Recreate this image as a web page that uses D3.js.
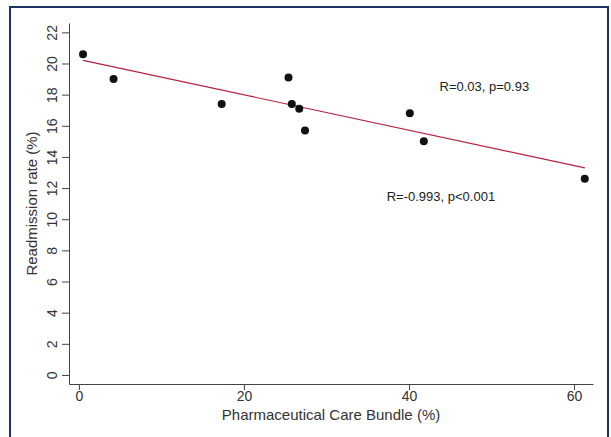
<!DOCTYPE html>
<html>
<head>
<meta charset="utf-8">
<script src="https://cdn.jsdelivr.net/npm/d3@7"></script>
<style>
  html, body { margin: 0; padding: 0; background: #fff; }
  svg { display: block; font-family: "Liberation Sans", Arial, sans-serif; }
</style>
</head>
<body>
<div id="chart"></div>
<script>
// share of patients receiving the bundle vs readmission rate, per site
const bundlePct = [0.5, 4.2, 17.3, 25.4, 25.8, 26.7, 27.4, 40.1, 41.8, 61.3];
const readmitPct = [20.6, 19.0, 17.4, 19.1, 17.4, 17.1, 15.7, 16.8, 15.0, 12.6];

// fitted line end points
const fitX = [0.5, 61.3];
const fitY = [20.2, 13.3];

const xTicks = [0, 20, 40, 60];
const yTicks = [0, 2, 4, 6, 8, 10, 12, 14, 16, 18, 20, 22];

const notes = [
    { text: "R=0.03, p=0.93", x: 43.7, y: 18.25 },
    { text: "R=-0.993, p<0.001", x: 37.3, y: 11.2 }
];

function drawScatter(containerId) {
    const W = 611, H = 437;
    const plot = { left: 69, right: 593, top: 23, bottom: 384 };

    d3.select(`#${containerId}`).selectAll("*").remove();

    const svg = d3.select(`#${containerId}`)
        .append("svg")
        .attr("width", W)
        .attr("height", H);

    // outer frame
    svg.append("rect")
        .attr("x", 10).attr("y", 7)
        .attr("width", 598).attr("height", 445)
        .attr("fill", "none")
        .attr("stroke", "#1c3461")
        .attr("stroke-width", 2);

    const x = d3.scaleLinear()
        .domain([-1.2, 62.3])
        .range([plot.left, plot.right]);

    const y = d3.scaleLinear()
        .domain([-0.58, 22.6])
        .range([plot.bottom, plot.top]);

    const xAxis = svg.append("g")
        .attr("transform", `translate(0,${plot.bottom})`)
        .call(d3.axisBottom(x).tickValues(xTicks).tickSize(6).tickPadding(1).tickSizeOuter(0));
    xAxis.select(".domain").attr("stroke", "#444");
    xAxis.selectAll(".tick line").attr("stroke", "#444");
    xAxis.selectAll(".tick text")
        .attr("font-size", 14)
        .attr("fill", "#333")
        .style("font-family", "Liberation Sans, Arial, sans-serif");

    const yAxis = svg.append("g")
        .attr("transform", `translate(${plot.left},0)`)
        .call(d3.axisLeft(y).tickValues(yTicks).tickSize(7).tickSizeOuter(0));
    yAxis.select(".domain").attr("stroke", "#444");
    yAxis.selectAll(".tick line").attr("stroke", "#444");
    yAxis.selectAll(".tick text")
        .attr("x", 0).attr("dy", 0)
        .attr("transform", "translate(-12,0) rotate(-90)")
        .attr("text-anchor", "middle")
        .attr("font-size", 14)
        .attr("fill", "#333")
        .style("font-family", "Liberation Sans, Arial, sans-serif");

    svg.append("text")
        .attr("transform", `translate(37,${(plot.top + plot.bottom) / 2}) rotate(-90)`)
        .attr("text-anchor", "middle")
        .attr("font-size", 15)
        .attr("fill", "#333")
        .text("Readmission rate (%)");

    svg.append("text")
        .attr("x", (plot.left + plot.right) / 2)
        .attr("y", 420)
        .attr("text-anchor", "middle")
        .attr("font-size", 15)
        .attr("fill", "#333")
        .text("Pharmaceutical Care Bundle (%)");

    // fitted line
    svg.append("line")
        .attr("x1", x(fitX[0])).attr("y1", y(fitY[0]))
        .attr("x2", x(fitX[1])).attr("y2", y(fitY[1]))
        .attr("stroke", "#b8203e")
        .attr("stroke-width", 1.2);

    svg.selectAll("circle.pt")
        .data(bundlePct.map((v, i) => [v, readmitPct[i]]))
        .join("circle")
        .attr("class", "pt")
        .attr("cx", d => x(d[0]))
        .attr("cy", d => y(d[1]))
        .attr("r", 4)
        .attr("fill", "#111");

    svg.selectAll("text.note")
        .data(notes)
        .join("text")
        .attr("class", "note")
        .attr("x", d => x(d.x))
        .attr("y", d => y(d.y))
        .attr("font-size", 13)
        .attr("fill", "#222")
        .text(d => d.text);
}

drawScatter("chart");
</script>
</body>
</html>
